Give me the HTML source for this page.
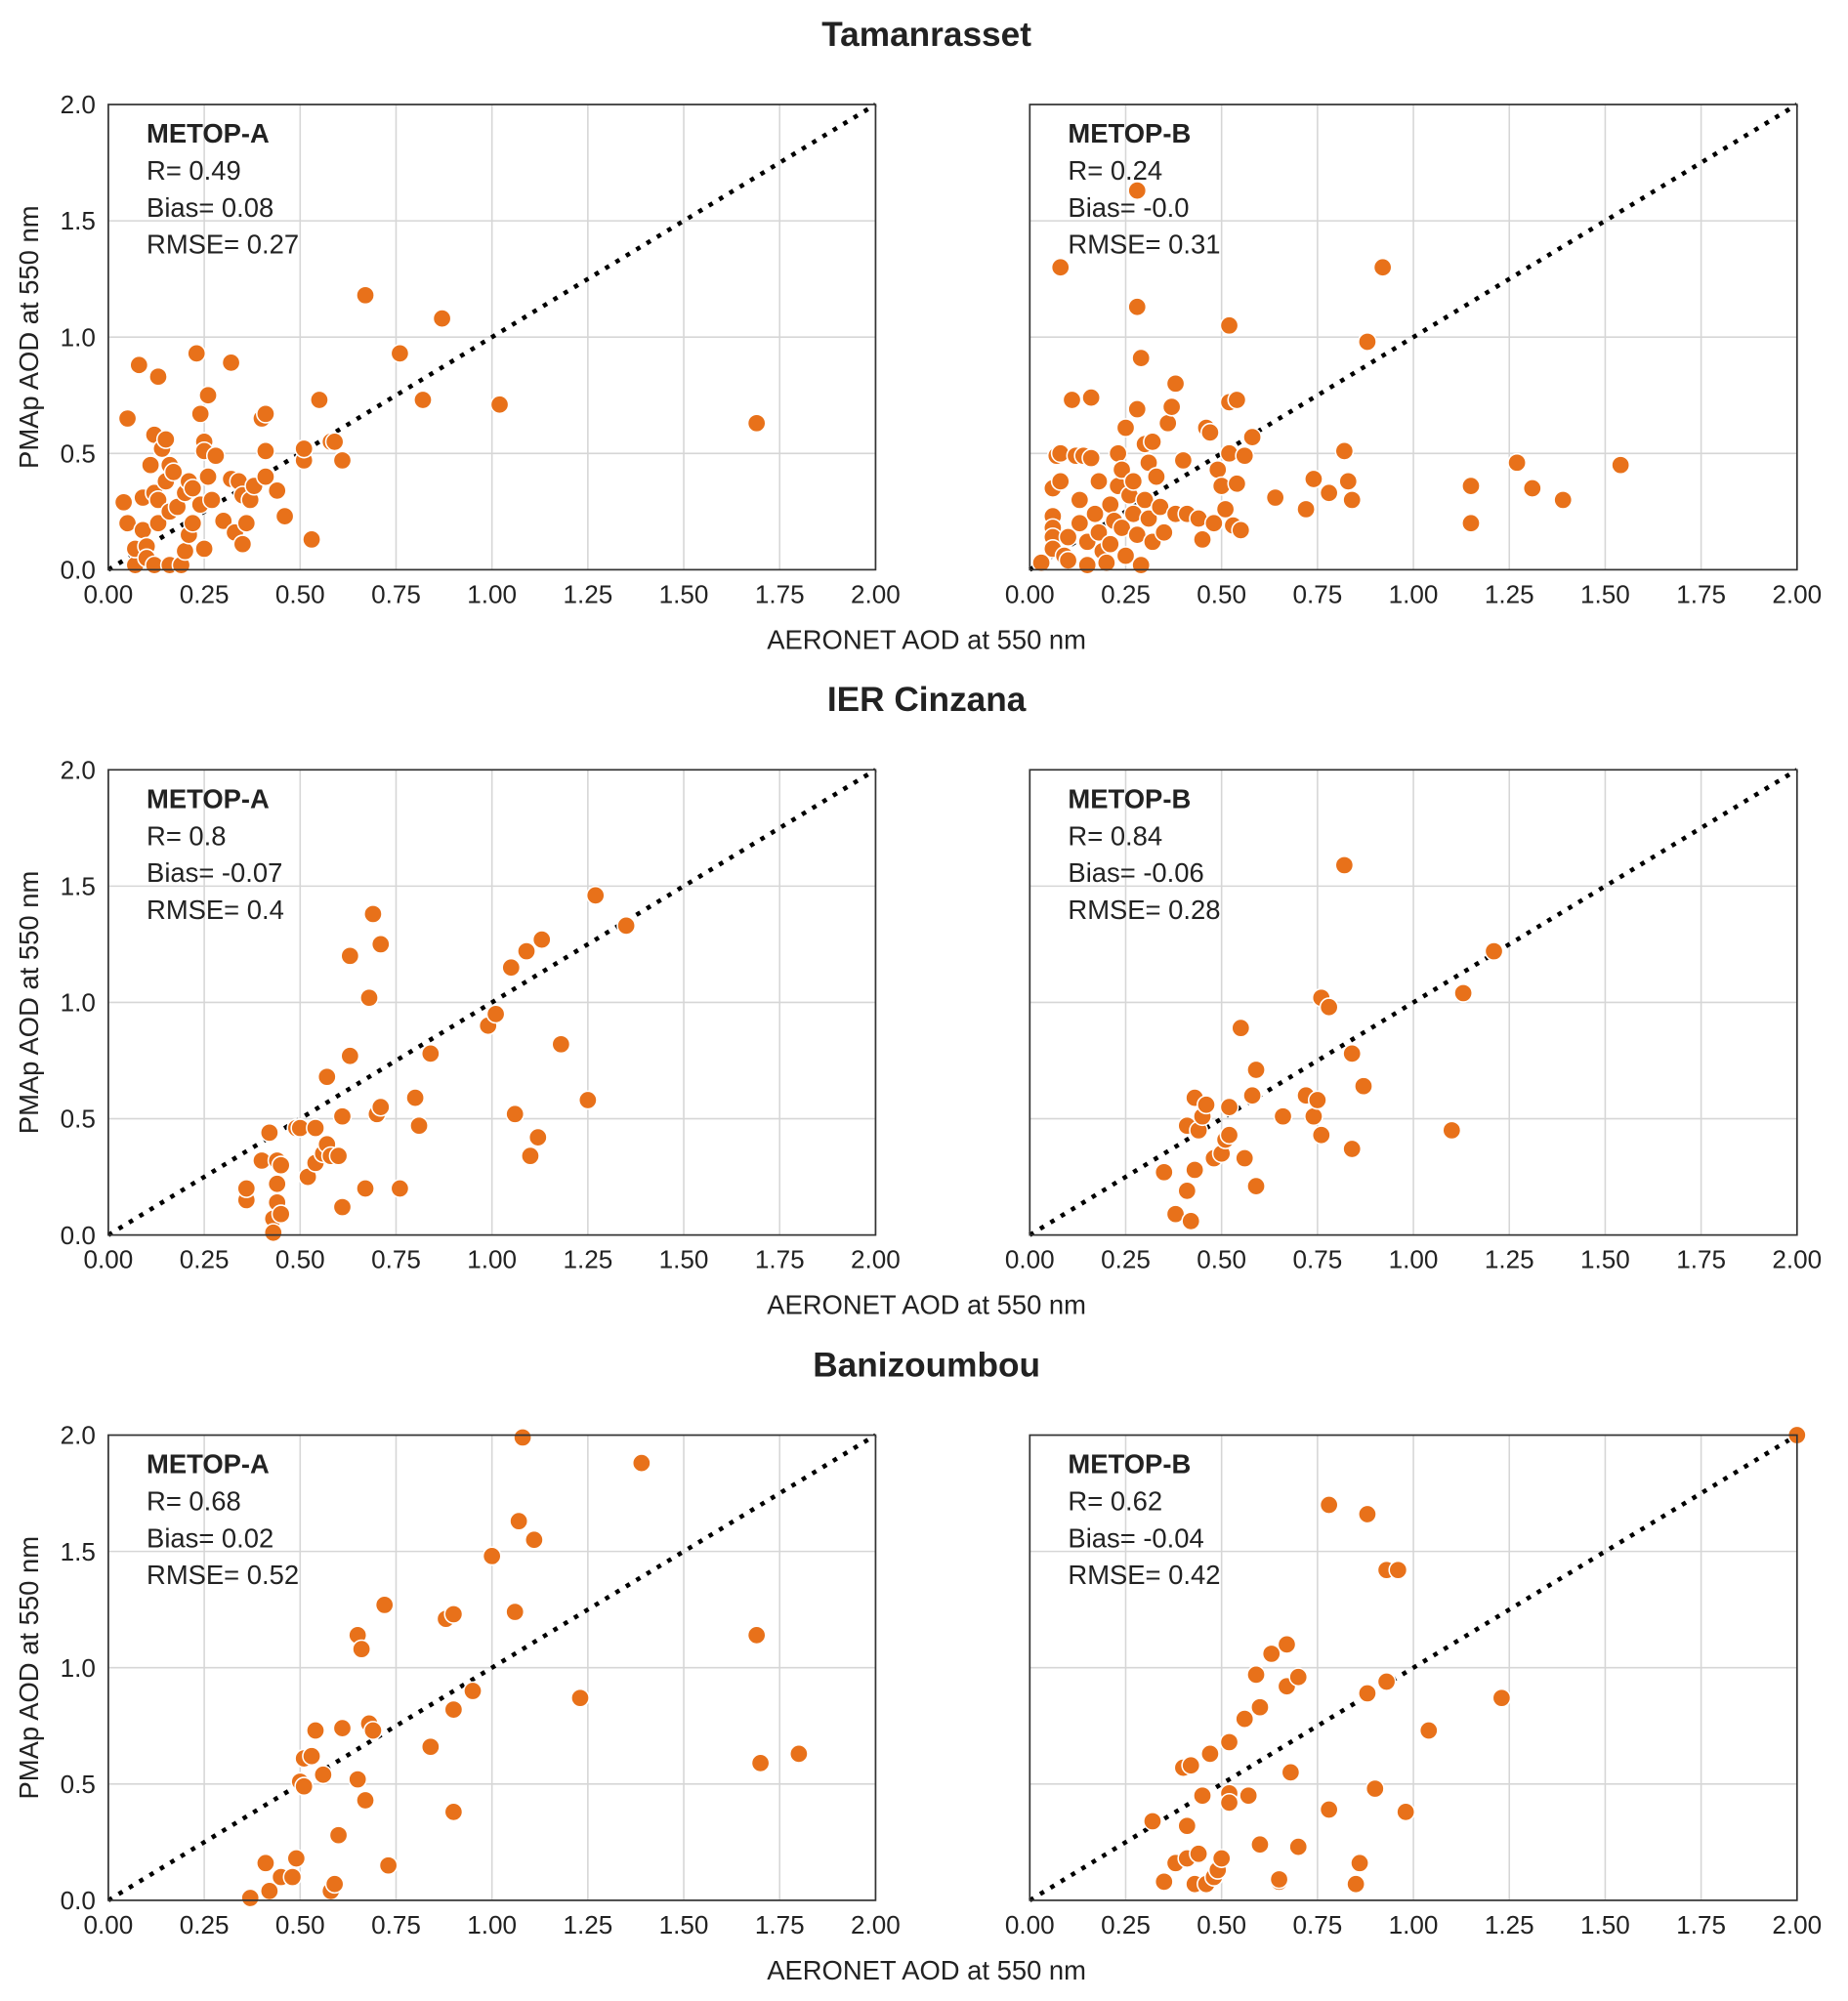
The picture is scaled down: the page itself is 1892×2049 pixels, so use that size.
<!DOCTYPE html>
<html><head><meta charset="utf-8"><style>
html,body{margin:0;padding:0;background:#fff}
svg{display:block;font-family:"Liberation Sans",Arial,sans-serif}
</style></head><body>
<svg id="fig" width="1892" height="2049" viewBox="0 0 1450 1570" preserveAspectRatio="none" xmlns="http://www.w3.org/2000/svg"></svg>
<script>
const xTicks=[0,0.25,0.5,0.75,1,1.25,1.5,1.75,2];
const xTickLabels=["0.00","0.25","0.50","0.75","1.00","1.25","1.50","1.75","2.00"];
const yTicks=[0,0.5,1,1.5,2];
const yTickLabels=["0.0","0.5","1.0","1.5","2.0"];
const siteTitles=["Tamanrasset","IER Cinzana","Banizoumbou"];
const satNames=["METOP-A","METOP-B"];
const statsR=[["0.49","0.24"],["0.8","0.84"],["0.68","0.62"]];
const statsBias=[["0.08","-0.0"],["-0.07","-0.06"],["0.02","-0.04"]];
const statsRMSE=[["0.27","0.31"],["0.4","0.28"],["0.52","0.42"]];
const tamA=[[0.04,0.29],[0.05,0.65],[0.05,0.2],[0.07,0.02],[0.07,0.09],[0.08,0.88],[0.09,0.31],[0.09,0.17],[0.1,0.1],[0.1,0.05],[0.11,0.45],[0.12,0.58],[0.12,0.33],[0.13,0.3],[0.13,0.83],[0.13,0.2],[0.14,0.52],[0.15,0.56],[0.15,0.38],[0.16,0.45],[0.16,0.25],[0.17,0.42],[0.18,0.27],[0.12,0.02],[0.16,0.02],[0.19,0.02],[0.2,0.08],[0.21,0.15],[0.2,0.33],[0.21,0.38],[0.22,0.35],[0.22,0.2],[0.23,0.93],[0.24,0.67],[0.24,0.28],[0.25,0.55],[0.25,0.51],[0.26,0.75],[0.26,0.4],[0.27,0.3],[0.28,0.49],[0.25,0.09],[0.3,0.21],[0.32,0.89],[0.32,0.39],[0.33,0.16],[0.34,0.38],[0.35,0.11],[0.35,0.32],[0.36,0.2],[0.37,0.3],[0.38,0.36],[0.4,0.65],[0.41,0.67],[0.41,0.51],[0.41,0.4],[0.44,0.34],[0.46,0.23],[0.51,0.47],[0.51,0.52],[0.53,0.13],[0.55,0.73],[0.58,0.55],[0.59,0.55],[0.61,0.47],[0.67,1.18],[0.76,0.93],[0.82,0.73],[0.87,1.08],[1.02,0.71],[1.69,0.63]];
const tamB=[[0.03,0.03],[0.06,0.35],[0.06,0.23],[0.06,0.18],[0.06,0.14],[0.06,0.09],[0.07,0.49],[0.08,1.3],[0.08,0.38],[0.08,0.5],[0.09,0.06],[0.1,0.14],[0.1,0.04],[0.11,0.73],[0.12,0.49],[0.13,0.3],[0.13,0.2],[0.14,0.49],[0.15,0.12],[0.15,0.02],[0.16,0.74],[0.16,0.48],[0.17,0.24],[0.18,0.38],[0.18,0.16],[0.19,0.08],[0.2,0.03],[0.21,0.28],[0.21,0.11],[0.22,0.21],[0.23,0.5],[0.23,0.36],[0.24,0.43],[0.24,0.18],[0.25,0.61],[0.25,0.06],[0.26,0.32],[0.27,0.24],[0.27,0.38],[0.28,1.63],[0.28,1.13],[0.28,0.69],[0.28,0.15],[0.29,0.91],[0.29,0.02],[0.3,0.54],[0.3,0.3],[0.31,0.46],[0.31,0.22],[0.32,0.55],[0.32,0.12],[0.33,0.4],[0.34,0.27],[0.35,0.16],[0.36,0.63],[0.37,0.7],[0.38,0.8],[0.38,0.24],[0.4,0.47],[0.41,0.24],[0.44,0.22],[0.45,0.13],[0.46,0.61],[0.47,0.59],[0.48,0.2],[0.49,0.43],[0.5,0.36],[0.51,0.26],[0.52,0.72],[0.52,0.5],[0.52,1.05],[0.53,0.19],[0.54,0.73],[0.54,0.37],[0.55,0.17],[0.56,0.49],[0.58,0.57],[0.64,0.31],[0.72,0.26],[0.74,0.39],[0.78,0.33],[0.82,0.51],[0.83,0.38],[0.84,0.3],[0.88,0.98],[0.92,1.3],[1.15,0.36],[1.15,0.2],[1.27,0.46],[1.31,0.35],[1.39,0.3],[1.54,0.45]];
const cinA=[[0.36,0.15],[0.36,0.2],[0.4,0.32],[0.42,0.44],[0.43,0.07],[0.43,0.01],[0.44,0.14],[0.44,0.22],[0.44,0.32],[0.45,0.09],[0.45,0.3],[0.49,0.46],[0.5,0.46],[0.52,0.25],[0.54,0.46],[0.54,0.31],[0.56,0.35],[0.57,0.39],[0.57,0.68],[0.58,0.34],[0.6,0.34],[0.61,0.51],[0.61,0.12],[0.63,0.77],[0.63,1.2],[0.67,0.2],[0.68,1.02],[0.69,1.38],[0.7,0.52],[0.71,0.55],[0.71,1.25],[0.76,0.2],[0.8,0.59],[0.81,0.47],[0.84,0.78],[0.99,0.9],[1.01,0.95],[1.05,1.15],[1.06,0.52],[1.09,1.22],[1.1,0.34],[1.12,0.42],[1.13,1.27],[1.18,0.82],[1.25,0.58],[1.27,1.46],[1.35,1.33]];
const cinB=[[0.35,0.27],[0.38,0.09],[0.41,0.19],[0.41,0.47],[0.42,0.06],[0.43,0.59],[0.43,0.28],[0.44,0.45],[0.45,0.51],[0.46,0.56],[0.48,0.33],[0.5,0.35],[0.51,0.41],[0.52,0.55],[0.52,0.43],[0.55,0.89],[0.56,0.33],[0.58,0.6],[0.59,0.21],[0.59,0.71],[0.66,0.51],[0.72,0.6],[0.74,0.51],[0.75,0.58],[0.76,1.02],[0.76,0.43],[0.78,0.98],[0.82,1.59],[0.84,0.78],[0.84,0.37],[0.87,0.64],[1.1,0.45],[1.13,1.04],[1.21,1.22]];
const banA=[[0.37,0.01],[0.41,0.16],[0.42,0.04],[0.45,0.1],[0.48,0.1],[0.49,0.18],[0.5,0.51],[0.51,0.61],[0.51,0.49],[0.53,0.62],[0.54,0.73],[0.56,0.54],[0.58,0.04],[0.59,0.07],[0.6,0.28],[0.61,0.74],[0.65,1.14],[0.65,0.52],[0.66,1.08],[0.67,0.43],[0.68,0.76],[0.69,0.73],[0.72,1.27],[0.73,0.15],[0.84,0.66],[0.88,1.21],[0.9,1.23],[0.9,0.38],[0.9,0.82],[0.95,0.9],[1.0,1.48],[1.06,1.24],[1.07,1.63],[1.08,1.99],[1.11,1.55],[1.23,0.87],[1.39,1.88],[1.69,1.14],[1.7,0.59],[1.8,0.63]];
const banB=[[0.32,0.34],[0.35,0.08],[0.38,0.16],[0.4,0.57],[0.41,0.32],[0.41,0.18],[0.42,0.58],[0.43,0.07],[0.44,0.2],[0.45,0.45],[0.46,0.07],[0.47,0.63],[0.48,0.1],[0.49,0.13],[0.5,0.18],[0.52,0.46],[0.52,0.42],[0.52,0.68],[0.56,0.78],[0.57,0.45],[0.59,0.97],[0.6,0.24],[0.6,0.83],[0.63,1.06],[0.65,0.08],[0.65,0.09],[0.67,1.1],[0.67,0.92],[0.68,0.55],[0.7,0.96],[0.7,0.23],[0.78,0.39],[0.78,1.7],[0.85,0.07],[0.86,0.16],[0.88,1.66],[0.88,0.89],[0.9,0.48],[0.93,1.42],[0.93,0.94],[0.96,1.42],[0.98,0.38],[1.04,0.73],[1.23,0.87],[2.0,2.0]];
const panelData=[[tamA,tamB],[cinA,cinB],[banA,banB]];

const NS="http://www.w3.org/2000/svg";
const svg=document.getElementById('fig');
function mk(tag,attrs,parent,text){const e=document.createElementNS(NS,tag);for(const k in attrs)e.setAttribute(k,attrs[k]);if(text!==undefined)e.textContent=text;(parent||svg).appendChild(e);return e;}
const colX=[85,808], W=602, H=365, rowY=[82,604,1126], titleY=[36,558,1080];
for(let r=0;r<3;r++){
  const t=mk('text',{x:727,y:titleY[r],'text-anchor':'middle','font-size':27,'font-weight':'bold',fill:'#222'},svg,siteTitles[r]);
  
  
  const xl=mk('text',{x:727,y:rowY[r]+H+62,'text-anchor':'middle','font-size':21,fill:'#222'},svg,'AERONET AOD at 550 nm');
  
  
  const yl=mk('text',{x:0,y:0,'text-anchor':'middle','font-size':21,fill:'#222',transform:`translate(30,${rowY[r]+H/2}) rotate(-90)`},svg,'PMAp AOD at 550 nm');
  
  
  for(let c=0;c<2;c++){
    const x0=colX[c], y0=rowY[r];
    const sx=v=>x0+v/2*W, sy=v=>y0+H-v/2*H;
    const g=mk('g',{});
    
    
    xTicks.forEach((v,i)=>{
      mk('line',{x1:sx(v),x2:sx(v),y1:y0,y2:y0+H,stroke:'#d6d6d6','stroke-width':1.2},g);
      const tl=mk('text',{x:sx(v),y:y0+H+26,'text-anchor':'middle','font-size':20,fill:'#222'},g,xTickLabels[i]);
      
      
    });
    yTicks.forEach((v,i)=>{
      mk('line',{x1:x0,x2:x0+W,y1:sy(v),y2:sy(v),stroke:'#d6d6d6','stroke-width':1.2},g);
      if(c===0){
        const tl=mk('text',{x:x0-10,y:sy(v)+7,'text-anchor':'end','font-size':20,fill:'#222'},g,yTickLabels[i]);
        
        
      }
    });
    const diag=mk('line',{x1:sx(0),y1:sy(0),x2:sx(2),y2:sy(2),stroke:'#000','stroke-width':3.5,'stroke-dasharray':'3.5 6'},g);
    
    
    panelData[r][c].forEach(p=>{
      const pt=mk('circle',{cx:sx(p[0]),cy:sy(p[1]),r:7,fill:'#e8711a',stroke:'#fff','stroke-width':1.2},g);
      
      
    });
    mk('rect',{x:x0,y:y0,width:W,height:H,fill:'none',stroke:'#333','stroke-width':1.3},g);
    const ann=[[satNames[c],true],['R= '+statsR[r][c]],['Bias= '+statsBias[r][c]],['RMSE= '+statsRMSE[r][c]]];
    ann.forEach((a,i)=>{
      const at=mk('text',{x:x0+30,y:y0+30+i*29,'font-size':21,fill:'#222','font-weight':a[1]?'bold':'normal'},g,a[0]);
      
      
    });
  }
}
</script>
</body></html>
